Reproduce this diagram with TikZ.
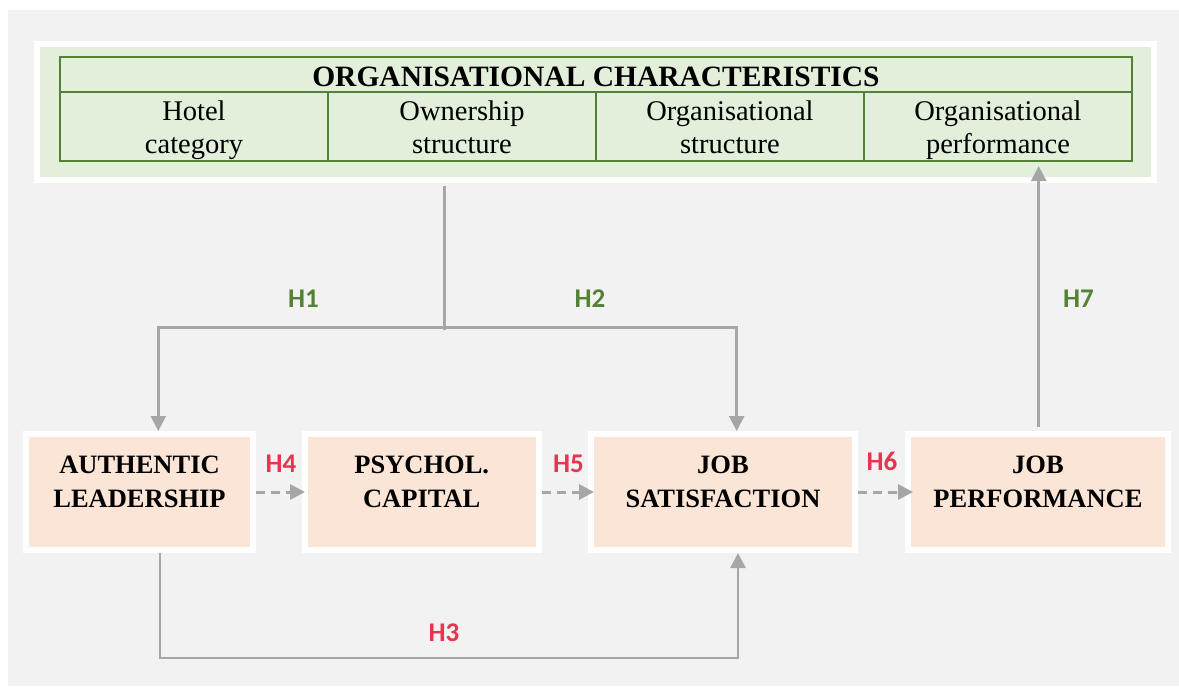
\documentclass[tikz,border=0pt]{standalone}
\usepackage{fontspec}
\setmainfont{Liberation Serif}
\newfontfamily\labfont{Carlito}
\usetikzlibrary{arrows.meta}
\definecolor{bggrey}{HTML}{F2F2F2}
\definecolor{tgreen}{HTML}{548235}
\definecolor{pgreen}{HTML}{E2EFDA}
\definecolor{peach}{HTML}{FBE5D6}
\definecolor{agrey}{HTML}{A6A6A6}
\definecolor{hred}{HTML}{E8344E}
\tikzset{
  panelbox/.style={draw=white, fill=pgreen, line width=6pt, inner sep=0pt},
  cellbox/.style={draw=tgreen, line width=2pt, inner sep=0pt, minimum width=268pt},
  celltext/.style={inner sep=0pt, align=center, font=\fontsize{28.5}{33}\selectfont},
  vbox/.style={draw=white, fill=peach, line width=6pt, inner sep=0pt, minimum height=116pt},
  vtext/.style={inner sep=0pt, align=center, font=\fontsize{26.5}{34}\selectfont\bfseries},
  conn/.style={draw=agrey, line width=2.5pt},
  dconn/.style={draw=agrey, line width=3pt, dash pattern=on 9pt off 6pt},
  tip/.style={-{Triangle[length=15pt,width=15pt]}},
  hlab/.style={inner sep=0pt, anchor=base, font=\labfont\bfseries\fontsize{27}{30}\selectfont},
  hg/.style={hlab, text=tgreen},
  hr/.style={hlab, text=hred}
}
\begin{document}
\begin{tikzpicture}[x=1pt,y=-1pt]
\useasboundingbox (0,0) rectangle (1179,686);
\fill[white] (0,0) rectangle (1179,686);
\fill[bggrey] (8,10) rectangle (1179,686);

% top panel
\node[panelbox, minimum width=1117pt, minimum height=136pt] (panel) at (595.5,112) {};
\node[cellbox, minimum width=1072pt, minimum height=35pt] (title) at (596,74.5) {};
\node[inner sep=0pt, anchor=base, font=\fontsize{29.5}{33}\selectfont\bfseries] (titlet) at (596,86) {ORGANISATIONAL CHARACTERISTICS};
\node[cellbox, minimum height=69pt] (c1) at (194,126.5) {};
\node[cellbox, minimum height=69pt] (c2) at (462,126.5) {};
\node[cellbox, minimum height=69pt] (c3) at (730,126.5) {};
\node[cellbox, minimum height=69pt] (c4) at (998,126.5) {};
\node[celltext] (c1t) at (194,130) {\rule{0pt}{20pt}Hotel\\category\rule[-7pt]{0pt}{7pt}};
\node[celltext] (c2t) at (462,130) {\rule{0pt}{20pt}Ownership\\structure\rule[-7pt]{0pt}{7pt}};
\node[celltext] (c3t) at (730,130) {\rule{0pt}{20pt}Organisational\\structure\rule[-7pt]{0pt}{7pt}};
\node[celltext] (c4t) at (998,130) {\rule{0pt}{20pt}Organisational\\performance\rule[-7pt]{0pt}{7pt}};

% variable boxes
\node[vbox, minimum width=227pt] (al) at (139.5,492) {};
\node[vbox, minimum width=234.5pt] (pc) at (421.75,492) {};
\node[vbox, minimum width=264pt] (js) at (723,492) {};
\node[vbox, minimum width=260pt] (jp) at (1038,492) {};
\node[vtext] (alt) at (139.5,481) {\rule{0pt}{19pt}AUTHENTIC\\LEADERSHIP\rule[-1pt]{0pt}{1pt}};
\node[vtext] (pct) at (421.75,481) {\rule{0pt}{19pt}PSYCHOL.\\CAPITAL\rule[-1pt]{0pt}{1pt}};
\node[vtext] (jst) at (723,481) {\rule{0pt}{19pt}JOB\\SATISFACTION\rule[-1pt]{0pt}{1pt}};
\node[vtext] (jpt) at (1038,481) {\rule{0pt}{19pt}JOB\\PERFORMANCE\rule[-1pt]{0pt}{1pt}};

% junction coordinates
\coordinate (hj) at (444.7,327.3);
\coordinate (hjs) at (444.7,330);
\coordinate (hl) at (158.3,327.3);
\coordinate (hrr) at (736.7,327.3);
\coordinate (h3a) at (160,658);
\coordinate (h3b) at (738,658);
\coordinate (h7) at (1038.7,300);

% H1, H2
\draw[conn] ([yshift=-3pt]panel.south -| hj) -- (hjs);
\draw[conn, tip] (hj) -- (hl) -- (hl |- al.north);
\draw[conn, tip] (hj) -- (hrr) -- (hrr |- js.north);
% H3
\draw[conn, tip] (al.south -| h3a) -- (h3a) -- (h3b) -- (h3b |- js.south);
% H4 H5 H6
\draw[dconn, tip] (al.east) -- ([xshift=3.5pt]pc.west);
\draw[dconn, tip] (pc.east) -- ([xshift=6pt]js.west);
\draw[dconn, tip] (js.east) -- ([xshift=8pt]jp.west);
% H7
\draw[conn, tip] ([yshift=4pt]jp.north -| h7) -- ([yshift=-4pt]c4.south -| h7);

% labels
\node[hg] (lh1) at (303.5,307) {H1};
\node[hg] (lh2) at (590,307) {H2};
\node[hg] (lh7) at (1078.5,307.7) {H7};
\node[hr] (lh4) at (281,472) {H4};
\node[hr] (lh5) at (568.5,472) {H5};
\node[hr] (lh6) at (882,470) {H6};
\node[hr] (lh3) at (444,641.7) {H3};
\end{tikzpicture}
\end{document}
